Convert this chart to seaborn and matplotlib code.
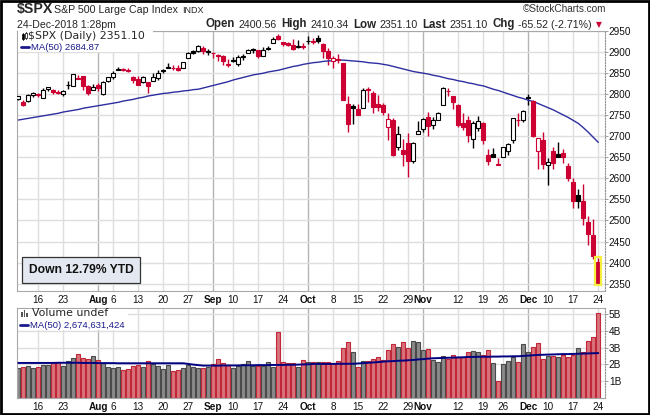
import numpy as np
import pandas as pd
import matplotlib
matplotlib.use("Agg")
import matplotlib.pyplot as plt
import seaborn as sns
from matplotlib.patches import Rectangle
from matplotlib.lines import Line2D

W, H = 650, 415

# trading days shown (10-Jul-2018 .. 24-Dec-2018)
HOLIDAYS = ["2018-09-03", "2018-11-22", "2018-12-05"]
dates = pd.bdate_range("2018-07-10", "2018-12-24", freq="C", holidays=HOLIDAYS)

prev_close = 2784.17  # close before the first bar (colour of the first candle)

opens = [2788.56, 2779.82, 2783.14, 2796.93,
         2797.36, 2789.34, 2811.35, 2809.37, 2804.55,
         2799.17, 2820.68, 2817.73, 2835.49, 2842.35,
         2819.00, 2809.73, 2821.17, 2800.48, 2829.62,
         2840.29, 2855.92, 2856.79, 2857.19, 2838.90,
         2835.46, 2827.88, 2827.95, 2831.44, 2838.32,
         2853.93, 2861.51, 2860.99, 2860.29, 2862.35,
         2884.69, 2901.45, 2900.62, 2908.94, 2898.37,
         2896.96, 2891.59, 2888.64, 2868.26,
         2881.39, 2871.57, 2888.29, 2896.85, 2906.38,
         2903.83, 2890.74, 2906.60, 2919.73, 2936.76,
         2921.83, 2921.75, 2916.98, 2911.65, 2910.03,
         2926.29, 2923.80, 2931.69, 2919.35, 2902.54,
         2877.53, 2882.51, 2873.90, 2776.87, 2770.54,
         2763.83, 2767.05, 2811.67, 2802.00, 2775.66,
         2773.94, 2721.03, 2737.87, 2674.88, 2667.86,
         2682.65, 2640.68, 2705.60, 2717.58, 2745.45,
         2726.37, 2738.40, 2774.13, 2806.38, 2794.10,
         2773.93, 2730.05, 2737.90, 2693.52, 2718.54,
         2730.74, 2654.60, 2657.74, 2633.36,
         2649.97, 2663.75, 2691.45, 2736.97, 2737.76,
         2790.50, 2782.43, 2663.51, 2691.26,
         2630.86, 2664.44, 2658.23, 2658.70, 2629.68,
         2590.75, 2559.90, 2547.05, 2496.77, 2465.38,
         2400.56]
highs = [2795.58, 2785.91, 2799.22, 2804.53,
         2801.19, 2814.19, 2816.76, 2812.05, 2809.70,
         2808.61, 2829.99, 2848.03, 2845.57, 2843.17,
         2821.74, 2824.46, 2825.83, 2829.91, 2840.38,
         2853.29, 2863.43, 2862.44, 2862.48, 2842.20,
         2843.40, 2843.11, 2827.95, 2850.49, 2855.63,
         2859.76, 2873.23, 2867.54, 2868.78, 2876.16,
         2898.25, 2903.77, 2916.50, 2912.46, 2906.32,
         2900.18, 2894.21, 2892.05, 2883.81,
         2886.93, 2892.52, 2894.65, 2906.76, 2908.30,
         2904.65, 2911.17, 2912.36, 2934.80, 2940.91,
         2923.79, 2923.95, 2931.15, 2927.22, 2920.53,
         2937.06, 2931.42, 2939.86, 2919.78, 2909.64,
         2889.45, 2894.83, 2874.02, 2795.14, 2775.77,
         2775.99, 2813.46, 2816.94, 2806.04, 2797.77,
         2778.94, 2753.59, 2742.59, 2722.70, 2692.38,
         2706.85, 2685.43, 2736.69, 2741.67, 2756.55,
         2744.27, 2756.82, 2815.15, 2814.75, 2794.10,
         2775.99, 2754.60, 2746.80, 2735.38, 2746.75,
         2733.16, 2669.44, 2670.73, 2647.55,
         2674.35, 2682.53, 2744.00, 2753.75, 2760.88,
         2800.18, 2785.93, 2696.15, 2708.54,
         2647.51, 2674.35, 2685.44, 2670.19, 2635.07,
         2601.13, 2573.99, 2585.29, 2509.63, 2504.41,
         2410.34]
lows = [2786.24, 2770.77, 2781.53, 2791.69,
        2793.39, 2789.24, 2805.89, 2799.77, 2800.01,
        2795.14, 2811.12, 2817.73, 2835.26, 2808.34,
        2798.11, 2808.06, 2805.85, 2796.34, 2827.37,
        2835.98, 2855.92, 2853.09, 2851.98, 2825.81,
        2819.88, 2826.58, 2802.49, 2831.44, 2833.73,
        2850.62, 2861.32, 2856.05, 2854.03, 2862.35,
        2884.69, 2893.50, 2898.40, 2895.22, 2891.73,
        2885.13, 2876.92, 2867.29, 2864.12,
        2875.94, 2866.78, 2879.20, 2896.39, 2895.77,
        2886.16, 2890.43, 2903.82, 2919.73, 2927.11,
        2912.63, 2913.70, 2903.28, 2909.27, 2907.50,
        2917.91, 2919.37, 2921.36, 2883.92, 2869.29,
        2862.08, 2874.27, 2784.86, 2710.51, 2729.44,
        2749.03, 2766.91, 2781.81, 2755.18, 2760.27,
        2749.22, 2691.43, 2651.89, 2667.84, 2628.16,
        2603.54, 2635.34, 2705.60, 2708.85, 2700.44,
        2717.94, 2737.08, 2774.13, 2794.99, 2764.24,
        2722.00, 2714.98, 2685.75, 2670.75, 2712.16,
        2681.09, 2631.52, 2649.82, 2631.09,
        2649.97, 2655.89, 2684.38, 2722.94, 2732.76,
        2773.38, 2697.18, 2621.53, 2623.14,
        2583.23, 2621.30, 2650.26, 2637.27, 2593.84,
        2530.54, 2528.71, 2488.96, 2441.18, 2408.55,
        2351.10]
closes = [2793.84, 2774.02, 2798.29, 2801.31,
          2798.43, 2809.55, 2815.62, 2804.49, 2801.83,
          2806.98, 2820.40, 2846.07, 2837.44, 2818.82,
          2802.60, 2816.29, 2813.36, 2827.22, 2840.35,
          2850.40, 2858.45, 2857.70, 2853.58, 2833.28,
          2821.93, 2839.96, 2818.37, 2840.69, 2850.13,
          2857.05, 2862.96, 2861.82, 2856.98, 2874.69,
          2896.74, 2897.52, 2914.04, 2901.13, 2901.52,
          2896.72, 2888.60, 2878.05, 2871.68,
          2877.13, 2887.89, 2888.92, 2904.18, 2904.98,
          2888.80, 2904.31, 2907.95, 2930.75, 2929.67,
          2919.37, 2915.56, 2905.97, 2914.00, 2913.98,
          2924.59, 2923.43, 2925.51, 2901.61, 2885.57,
          2884.43, 2880.34, 2785.68, 2728.37, 2767.13,
          2750.79, 2809.92, 2809.21, 2768.78, 2767.78,
          2755.88, 2740.69, 2656.10, 2705.57, 2658.69,
          2641.25, 2682.63, 2711.74, 2740.37, 2723.06,
          2738.31, 2755.45, 2813.89, 2806.83, 2781.01,
          2726.22, 2722.18, 2701.58, 2730.20, 2736.27,
          2690.73, 2641.89, 2649.93, 2632.56,
          2673.45, 2682.17, 2743.79, 2737.80, 2760.17,
          2790.37, 2700.06, 2695.95, 2633.08,
          2637.72, 2636.78, 2651.07, 2650.54, 2599.95,
          2545.94, 2546.16, 2506.96, 2467.42, 2416.62,
          2351.10]

# 50-day moving average of price
ma_price = [2738, 2740, 2742, 2744, 2746, 2748, 2750,
            2752, 2754, 2757, 2759, 2761, 2763, 2766,
            2768, 2770, 2772, 2774, 2776, 2778,
            2780, 2783, 2785, 2787, 2790,
            2792, 2795, 2797, 2799, 2801,
            2802, 2804, 2805, 2807, 2808, 2810, 2811,
            2814, 2817, 2820, 2823, 2826, 2829, 2833,
            2836, 2839, 2842, 2845,
            2847, 2849, 2852, 2854, 2856,
            2859, 2862, 2865, 2867, 2870, 2872,
            2874, 2875, 2877, 2878, 2879,
            2880, 2880, 2879,
            2878, 2877, 2876, 2874,
            2873, 2872, 2870, 2868,
            2865, 2862, 2859, 2856, 2853, 2851, 2849, 2847,
            2844, 2842, 2839, 2836, 2834, 2831, 2829,
            2826, 2824, 2821, 2819,
            2815, 2811, 2808, 2804, 2800, 2796,
            2792, 2789, 2785, 2782,
            2777, 2772, 2767, 2762,
            2756, 2750, 2744, 2737, 2730,
            2720, 2709, 2697, 2685]

# volume in billions
volume = [1.80, 1.86, 1.92, 1.80, 1.86, 1.96, 1.96, 2.12, 2.12,
          1.92, 2.22, 2.40, 2.62, 2.40, 2.32, 2.50, 2.26, 2.10, 1.82,
          1.76, 1.84, 1.68, 1.74, 1.88, 1.96, 1.82, 2.20, 2.00, 1.92,
          1.72, 1.96, 1.60, 1.66, 1.76, 1.96, 1.86, 1.80, 1.80, 1.86,
          2.02, 2.32, 2.08, 1.98, 1.80, 1.92, 2.04, 2.20, 1.90,
          1.90, 1.92, 2.14, 1.86, 3.94, 2.16, 2.06, 2.06, 1.82, 2.26,
          2.12, 2.12, 2.12, 2.12, 2.12, 2.06, 2.20, 2.96, 3.32, 2.72,
          1.86, 2.20, 2.20, 2.30, 2.46, 2.26, 2.86, 3.22, 3.06, 3.32,
          2.96, 3.40, 3.32, 2.86, 2.92, 2.24, 2.14, 2.50, 2.32, 2.56,
          2.46, 2.46, 2.74, 2.80, 2.72, 2.56, 2.86, 2.06, 1.00,
          2.02, 2.20, 2.46, 2.12, 3.20, 2.76, 3.02, 3.26, 2.30,
          2.50, 2.50, 2.42, 2.56, 2.42, 2.56, 2.96, 2.76, 3.42, 3.66,
          5.06]

ma_volume = [2.08] * 8 + [2.09] * 5 + [2.08] * 3 + [2.07] * 4 + [2.06] * 2 + \
            [2.06] * 12 + \
            [2.02, 1.98, 1.95, 1.92] + \
            [1.92, 1.92, 1.92, 1.93, 1.93, 1.93, 1.93, 1.94, 1.94] + \
            [1.94, 1.95, 1.95, 1.95, 1.96, 1.96, 1.96, 1.97, 1.97] + \
            [1.98, 1.99, 2.00, 2.02] + \
            [2.02, 2.02, 2.02, 2.02, 2.03, 2.03, 2.03, 2.03] + \
            [2.05, 2.07, 2.09, 2.11, 2.13, 2.16] + \
            [2.18, 2.19, 2.21, 2.22, 2.24, 2.26] + \
            [2.29, 2.31, 2.34, 2.36] + \
            [2.37, 2.38, 2.39, 2.40, 2.41, 2.42, 2.44] + \
            [2.44, 2.45, 2.45, 2.45, 2.46, 2.46, 2.47, 2.47, 2.48, 2.48] + \
            [2.50, 2.52, 2.54, 2.56, 2.57] + \
            [2.58, 2.59, 2.60, 2.61, 2.61, 2.62, 2.63, 2.64] + \
            [2.65, 2.66, 2.67]

tick_pos = [4, 9, 16, 19, 24, 29, 34, 39, 43, 48, 53, 58, 63, 68, 73, 78, 81,
            88, 93, 97, 102, 106, 111, 116]
tick_labels = ["16", "23", "Aug", "6", "13", "20", "27", "Sep", "10", "17", "24",
               "Oct", "8", "15", "22", "29", "Nov", "12", "19", "26", "Dec", "10",
               "17", "24"]
month_labels = {"Aug", "Sep", "Oct", "Nov", "Dec"}
price_ticks = list(range(2350, 2951, 50))

df = pd.DataFrame({"date": dates, "open": opens, "high": highs, "low": lows,
                   "close": closes, "ma": ma_price, "vol": volume, "vma": ma_volume})
df["i"] = np.arange(len(df))
df["prev"] = df["close"].shift(1).fillna(prev_close)

RED = "#cc0033"
BLACK = "#000000"
up_day = df["close"] >= df["prev"]
line_col = np.where(up_day, BLACK, RED)
hollow = df["close"] > df["open"]
face_col = np.where(hollow, "white", line_col)

sns.set_theme(style="white")
plt.rcParams["font.family"] = ["Liberation Sans", "DejaVu Sans"]

fig = plt.figure(figsize=(W / 100, H / 100), dpi=100)
fig.patch.set_facecolor("white")


def fx(x):
    return x / W


def fy(y):
    return 1 - y / H


XL = (-0.26, 117.34)
ax = fig.add_axes([fx(17), fy(290.5), fx(605) - fx(17), (290.5 - 30.5) / H])
axv = fig.add_axes([fx(17), fy(397.7), fx(605) - fx(17), (397.7 - 308.3) / H])

GRID = "#dedede"
MONTH = "#b4b4b4"
for a in (ax, axv):
    a.set_facecolor("white")
    a.set_xlim(*XL)
    for p, lab in zip(tick_pos, tick_labels):
        a.axvline(p, color=MONTH if lab in month_labels else GRID, lw=1.0, zorder=0)
    for s in ("top", "left", "bottom"):
        a.spines[s].set_color("#a8a8a8")
        a.spines[s].set_linewidth(0.8)
    a.spines["right"].set_color("#909090")
    a.spines["right"].set_linestyle((0, (1, 1.5)))
    a.spines["right"].set_linewidth(0.8)
    a.yaxis.tick_right()
    a.tick_params(axis="y", length=2, width=0.6, color="#909090", pad=0.8,
                  labelsize=7.2, labelcolor="#111111")
    a.tick_params(axis="x", length=0, pad=3, labelsize=7.2, labelcolor="#111111")
    a.set_xticks(tick_pos)
    a.set_xticklabels(tick_labels)
    for t in a.get_xticklabels():
        if t.get_text() in month_labels:
            t.set_fontweight("bold")

# price panel
ax.set_ylim(2334.0, 2950.2)
ax.set_yticks(price_ticks)
for p in price_ticks:
    ax.axhline(p, color=GRID, lw=1.0, zorder=0)
ax.vlines(df["i"], df["low"], df["high"], colors=line_col, lw=1.0, zorder=2)
body_lo = np.minimum(df["open"], df["close"])
body_h = np.maximum(np.abs(df["close"] - df["open"]), 1.2)
ax.bar(df["i"], body_h, bottom=body_lo, width=0.78, color=face_col,
       edgecolor=line_col, linewidth=0.8, zorder=3)
last = df.iloc[-1]
ax.add_patch(Rectangle((last["i"] - 0.6, last["low"] - 3), 1.2, last["high"] - last["low"] + 6,
                       fill=False, edgecolor="#f5f03c", lw=1.6, zorder=4))
sns.lineplot(data=df, x="i", y="ma", ax=ax, color="#2e2ea0", lw=1.0, zorder=2)
ax.set_xlabel("")
ax.set_ylabel("")

# volume panel
axv.set_ylim(0, 5.35)
axv.set_yticks([1, 2, 3, 4, 5])
axv.set_yticklabels(["1B", "2B", "3B", "4B", "5B"])
for v in [1, 2, 3, 4, 5]:
    axv.axhline(v, color=GRID, lw=1.0, zorder=0)
vol_face = np.where(up_day, "#8a8a8a", "#d9737b")
vol_edge = np.where(up_day, "#4a4a4a", "#c0283a")
axv.bar(df["i"], df["vol"], width=0.86, color=vol_face, edgecolor=vol_edge,
        linewidth=0.8, zorder=2)
sns.lineplot(data=df, x="i", y="vma", ax=axv, color="#000080", lw=1.4, zorder=3)
axv.set_xlabel("")
axv.set_ylabel("")

# header
fig.text(fx(16.5), fy(9.5), "$SPX", fontsize=10.2, fontweight="bold", va="center")
fig.text(fx(54), fy(10), "S&P 500 Large Cap Index", fontsize=7.7, va="center")
fig.text(fx(182), fy(10.5), "INDX", fontsize=6.5, va="center")
fig.text(fx(606), fy(9.5), "\u00a9StockCharts.com", fontsize=7.2, va="center",
         ha="right", color="#333333")
fig.text(fx(17), fy(24.5), "24-Dec-2018 1:28pm", fontsize=7.6, va="center")

renderer = fig.canvas.get_renderer()
parts = [("Open", True), ("2400.56", False), ("High", True), ("2410.34", False),
         ("Low", True), ("2351.10", False), ("Last", True), ("2351.10", False),
         ("Chg", True), ("-65.52 (-2.71%)", False)]
x = 206.0
for s, bold in parts:
    t = fig.text(fx(x), fy(24.5), s, fontsize=8.3 if bold else 7.7,
                 fontweight="bold" if bold else "normal", va="center")
    x += t.get_window_extent(renderer).width + (3 if bold else 5)
fig.text(fx(x - 1), fy(25), "\u25bc", fontsize=5.5, color=RED, va="center",
         family="DejaVu Sans")

# legends
LEG = ["DejaVu Sans"]
fig.patches.append(Rectangle((fx(18), fy(52)), fx(153) - fx(18), (52 - 31.5) / H,
                             transform=fig.transFigure, facecolor="white",
                             edgecolor="none", zorder=5))
fig.text(fx(28), fy(36.3), "$SPX (Daily) 2351.10", fontsize=7.9, va="center",
         family=LEG, zorder=6)
fig.text(fx(31), fy(47.2), "MA(50) 2684.87", fontsize=6.8, va="center",
         color="#1a1a8c", zorder=6)
fig.lines.append(Line2D([fx(21), fx(29)], [fy(47), fy(47)], transform=fig.transFigure,
                        color="#1a1a8c", lw=2, zorder=6))
for xx, y0, y1, fill in [(22.5, 34, 39, "black"), (25.5, 33, 38, "white")]:
    fig.lines.append(Line2D([fx(xx), fx(xx)], [fy(y1 + 1), fy(y0 - 1)],
                            transform=fig.transFigure, color="black", lw=0.6, zorder=6))
    fig.patches.append(Rectangle((fx(xx - 1), fy(y1)), 2 / W, (y1 - y0) / H,
                                 transform=fig.transFigure, facecolor=fill,
                                 edgecolor="black", lw=0.5, zorder=7))

fig.patches.append(Rectangle((fx(18), fy(330)), fx(128) - fx(18), (330 - 309) / H,
                             transform=fig.transFigure, facecolor="white",
                             edgecolor="none", zorder=5))
fig.text(fx(32), fy(313.2), "Volume undef", fontsize=7.9, va="center", family=LEG, zorder=6)
for k, hgt in enumerate([5, 7, 4]):
    fig.patches.append(Rectangle((fx(21 + 2.5 * k), fy(317)), 1.6 / W, hgt / H,
                                 transform=fig.transFigure, facecolor="#555555",
                                 edgecolor="none", zorder=6))
fig.text(fx(30), fy(325), "MA(50) 2,674,631,424", fontsize=6.8, va="center",
         color="#1a1a8c", zorder=6)
fig.lines.append(Line2D([fx(20), fx(28)], [fy(325), fy(325)], transform=fig.transFigure,
                        color="#1a1a8c", lw=2, zorder=6))

# YTD note
fig.text(fx(29), fy(270), "Down 12.79% YTD", fontsize=8.7, fontweight="bold",
         va="center", ha="left", color="#111111", zorder=8,
         bbox=dict(boxstyle="square,pad=0.55", facecolor="#e4e8f0", edgecolor="#333333", lw=0.9))

# outer frame
fig.patches.append(Rectangle((0.001, 0.002), 0.997, 0.996, transform=fig.transFigure,
                             fill=False, edgecolor="black", lw=2, zorder=10))

fig.savefig("out.png", dpi=100)
